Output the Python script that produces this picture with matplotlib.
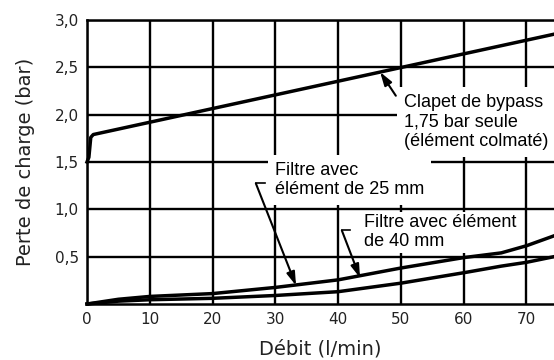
import matplotlib
matplotlib.use("Agg")
import matplotlib.pyplot as plt

# Data
flow_bypass = [0, 0.3, 0.6, 1.0, 74.4]
dp_bypass = [1.5, 1.55, 1.76, 1.79, 2.85]

flow_filter = [0, 5, 10, 20, 30, 40, 50, 60, 66, 70, 74.4]
dp_25mm = [0, 0.05, 0.08, 0.11, 0.175, 0.255, 0.38, 0.49, 0.54, 0.615, 0.72]
dp_40mm = [0, 0.03, 0.045, 0.06, 0.09, 0.13, 0.22, 0.33, 0.40, 0.44, 0.50]

x_ticks = [0, 10, 20, 30, 40, 50, 60, 70]
y_ticks = [0.5, 1.0, 1.5, 2.0, 2.5, 3.0]
y_tick_labels = ["0,5", "1,0", "1,5", "2,0", "2,5", "3,0"]

fig = plt.figure(figsize=(5.54, 3.6), dpi=100)
ax = fig.add_axes([87/554, 1 - 304/360, 1 - 87/554, (304 - 20)/360])

ax.set_xlim(0, 74.4)
ax.set_ylim(0, 3.0)
ax.set_xticks(x_ticks)
ax.set_xticklabels([str(t) for t in x_ticks], fontsize=11, color="#222222")
ax.set_yticks(y_ticks)
ax.set_yticklabels(y_tick_labels, fontsize=11, color="#222222")
ax.tick_params(length=0, pad=6)
ax.grid(True, color="black", linewidth=1.7, zorder=1)
ax.set_axisbelow(True)
for s in ["left", "bottom", "top"]:
    ax.spines[s].set_linewidth(1.8)
ax.spines["right"].set_visible(False)

ax.plot(flow_bypass, dp_bypass, color="black", linewidth=2.5, zorder=6, clip_on=False)
ax.plot(flow_filter, dp_25mm, color="black", linewidth=2.5, zorder=6, clip_on=False)
ax.plot(flow_filter, dp_40mm, color="black", linewidth=2.5, zorder=6, clip_on=False)

tfont = dict(family=["Liberation Sans", "DejaVu Sans"], fontsize=13)

ax.text(50.5, 1.92, "Clapet de bypass\n1,75 bar seule\n(élément colmaté)", ha="left", va="center",
        linespacing=1.2, bbox=dict(facecolor="white", edgecolor="none", pad=5), zorder=4, **tfont)
ax.text(29.9, 1.31, "Filtre avec\nélément de 25 mm", ha="left", va="center",
        linespacing=1.2, bbox=dict(facecolor="white", edgecolor="none", pad=5), zorder=4, **tfont)
ax.text(44.1, 0.76, "Filtre avec élément\nde 40 mm", ha="left", va="center",
        linespacing=1.2, bbox=dict(facecolor="white", edgecolor="none", pad=1.5), zorder=4, **tfont)

arrow = dict(arrowstyle="-|>,head_length=0.8,head_width=0.25", color="black", lw=1.5,
             shrinkA=0, shrinkB=0)
ax.annotate("", xy=(46.7, 2.45), xytext=(49.2, 2.20), arrowprops=arrow, zorder=7)
ax.annotate("", xy=(33.3, 0.195), xytext=(26.9, 1.274), arrowprops=arrow, zorder=7)
ax.annotate("", xy=(43.5, 0.276), xytext=(40.6, 0.777), arrowprops=arrow, zorder=7)
ax.plot([26.9, 28.3], [1.274, 1.274], color="black", lw=1.2, zorder=7)
ax.plot([40.6, 41.9], [0.777, 0.777], color="black", lw=1.2, zorder=7)

ax.set_ylabel("Perte de charge (bar)", fontsize=14, color="#222222", labelpad=14)
ax.set_xlabel("Débit (l/min)", fontsize=14, color="#222222", labelpad=9)

fig.savefig("out.png", dpi=100)
